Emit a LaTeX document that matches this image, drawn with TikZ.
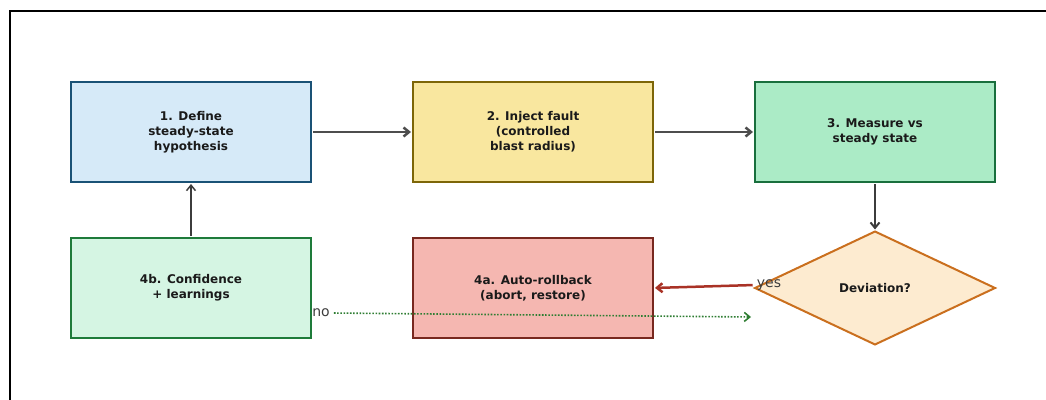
\documentclass[tikz,border=0pt]{standalone}
\usepackage{fontspec}
\setmainfont{DejaVu Sans}
\usetikzlibrary{positioning,shapes.geometric,arrows.meta}
\definecolor{bluefill}{HTML}{D6EAF8}
\definecolor{blueline}{HTML}{1A5276}
\definecolor{yellowfill}{HTML}{F9E79F}
\definecolor{yellowline}{HTML}{7D6608}
\definecolor{mintfill}{HTML}{ABEBC6}
\definecolor{mintline}{HTML}{196F3D}
\definecolor{palefill}{HTML}{D5F5E3}
\definecolor{paleline}{HTML}{1E7B3A}
\definecolor{redfill}{HTML}{F5B7B1}
\definecolor{redline}{HTML}{78281F}
\definecolor{orangefill}{HTML}{FDEBD0}
\definecolor{orangeline}{HTML}{CA6F1E}
\definecolor{yesred}{HTML}{A93226}
\definecolor{nogreen}{HTML}{2E7D32}
\definecolor{ink}{HTML}{1A1A1A}
\definecolor{flowgray}{HTML}{4D4D4D}

\begin{document}
\begin{tikzpicture}[x=1pt,y=-1pt,
  box/.style={draw,line width=2pt,minimum width=240pt,minimum height=100pt,outer sep=0pt,
    align=center,text=ink,font=\fontsize{12}{15}\selectfont\bfseries},
  decision/.style={diamond,draw,line width=2pt,minimum width=240pt,minimum height=113pt,
    aspect=2.12,inner sep=0pt,outer sep=0pt,text=ink,font=\fontsize{12}{15}\selectfont\bfseries},
  lbl/.style={text=ink!85,font=\fontsize{14}{16}\selectfont,inner sep=2pt},
  >={Straight Barb[length=5.5pt,width=9pt]}]
\useasboundingbox (0,0) rectangle (1046,399);
\draw[line width=2pt] (9.5,10.5) rectangle (1070,420);

\node [box,fill=bluefill,draw=blueline] (define) at (191,132) {1. Define\\steady-state\\hypothesis};
\node [box,fill=yellowfill,draw=yellowline] (inject) at (533,132) {2. Inject fault\\(controlled\\blast radius)};
\node [box,fill=mintfill,draw=mintline] (measure) at (875,132) {3. Measure vs\\steady state};
\node [box,fill=palefill,draw=paleline] (confidence) at (191,288) {4b. Confidence\\+ learnings};
\node [box,fill=redfill,draw=redline] (rollback) at (533,288) {4a. Auto-rollback\\(abort, restore)};
\node [decision,fill=orangefill,draw=orangeline] (deviation) at (875,288) {Deviation?};

\node [lbl] (yes) at (769,285) {yes};
\node [lbl] (no) at (321,313) {no};
\coordinate (noend) at (751,317);

\path[->,shorten >=2pt,shorten <=2pt]
 (define) edge[line width=2.5pt,draw=flowgray] (inject)
 (inject) edge[line width=2.5pt,draw=flowgray] (measure)
 (measure) edge[line width=2pt,draw=ink!85] (deviation)
 (confidence) edge[line width=1.5pt,draw=ink!85] (define)
 (yes.west) edge[line width=2.5pt,draw=yesred] (rollback.east)
 (no.east) edge[line width=1.6pt,draw=nogreen,dash pattern=on 1.6pt off 1.6pt,shorten >=0pt] (noend);
\end{tikzpicture}
\end{document}
